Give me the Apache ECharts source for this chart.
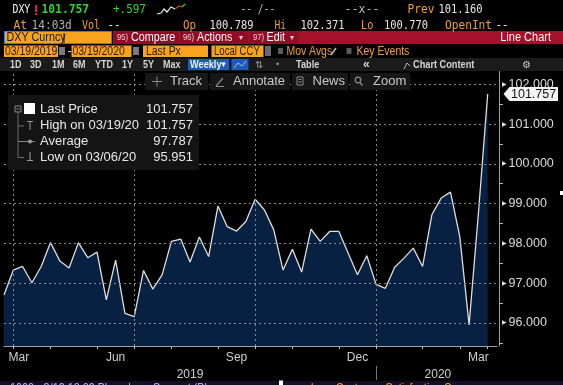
<!DOCTYPE html>
<html><head><meta charset="utf-8">
<script src="https://cdn.jsdelivr.net/npm/echarts@6/dist/echarts.min.js"></script>
<style>html,body{margin:0;padding:0;background:#000;}#c{width:563px;height:385px;}</style>
</head><body><div id="c"></div>
<script>
// ---- data ----
var dates = ['2019-03-22','2019-03-29','2019-04-05','2019-04-12','2019-04-19','2019-04-26','2019-05-03','2019-05-10','2019-05-17','2019-05-24','2019-05-31','2019-06-07','2019-06-14','2019-06-21','2019-06-28','2019-07-05','2019-07-12','2019-07-19','2019-07-26','2019-08-02','2019-08-09','2019-08-16','2019-08-23','2019-08-30','2019-09-06','2019-09-13','2019-09-20','2019-09-27','2019-10-04','2019-10-11','2019-10-18','2019-10-25','2019-11-01','2019-11-08','2019-11-15','2019-11-22','2019-11-29','2019-12-06','2019-12-13','2019-12-20','2019-12-27','2020-01-03','2020-01-10','2020-01-17','2020-01-24','2020-01-31','2020-02-07','2020-02-14','2020-02-21','2020-02-28','2020-03-06','2020-03-13','2020-03-19','2020-03-27'];
var lastPrice = [96.70,97.33,97.42,97.01,97.42,98.02,97.56,97.38,98.02,97.64,97.78,96.58,97.58,96.24,96.16,97.32,96.85,97.21,98.05,98.11,97.53,98.16,97.67,98.94,98.42,98.31,98.55,99.11,98.84,98.34,97.33,97.85,97.28,98.36,98.05,98.30,98.30,97.75,97.21,97.69,96.97,96.87,97.40,97.63,97.88,97.42,98.72,99.14,99.29,98.17,95.951,98.75,101.757,'-'];
var yLabelValues = [96,97,98,99,100,101,102];
var yMinorTicks = [95.5,96.5,97.5,98.5,99.5,100.5,101.5];
var monthEnds = ['2019-03-29','2019-04-26','2019-05-31','2019-06-28','2019-07-26','2019-08-30','2019-09-27','2019-10-25','2019-11-29','2019-12-27','2020-01-31','2020-02-28','2020-03-19'];
var quarterEnds = ['2019-03-29','2019-06-28','2019-09-27','2019-12-27'];
var monthLabelDates = ['2019-03-29','2019-06-14','2019-09-13','2019-12-13','2020-03-13'];
var monthLabels = ['Mar','Jun','Sep','Dec','Mar'];
var yearLabelDates = ['2019-08-09','2020-02-07'];
var yearLabels = ['2019','2020'];
var yearBoundary = ['2019-12-27'];
var legendRows = [['Last Price','101.757'],['High on 03/19/20','101.757'],['Average','97.787'],['Low on 03/06/20','95.951']];

var chart = echarts.init(document.getElementById('c'), null, {renderer:'canvas'});
var GRID = '#8a8a8a';
var option = {
  backgroundColor: '#000',
  animation: false,
  grid: {left: 4, right: 66, top: 71, bottom: 39, containLabel: false},
  xAxis: [{
    type: 'category', data: dates, boundaryGap: false, position: 'bottom',
    axisLine: {show: true, lineStyle: {color: '#a0a0a0', width: 1}},
    axisTick: {show: true, length: 3, lineStyle: {color: '#bbb'},
      interval: function (i, v) { return monthEnds.indexOf(v) >= 0; }},
    axisLabel: {show: true, color: '#d0d0d0', fontSize: 12, fontFamily: 'Liberation Sans', margin: 6,
      interval: function (i, v) { return monthLabelDates.indexOf(v) >= 0; },
      formatter: function (v) { var k = monthLabelDates.indexOf(v); return k === 0 ? '{a|' + monthLabels[k] + '}' : monthLabels[k]; },
      rich: {a: {color: '#d0d0d0', fontSize: 12, fontFamily: 'Liberation Sans', padding: [0, 0, 0, 11]}}},
    splitLine: {show: false}
  }, {
    type: 'category', data: dates, boundaryGap: false, position: 'bottom', offset: 20,
    axisLine: {show: false},
    axisTick: {show: true, length: 14, lineStyle: {color: '#777'},
      interval: function (i, v) { return yearBoundary.indexOf(v) >= 0; }},
    axisLabel: {show: true, color: '#d0d0d0', fontSize: 12, fontFamily: 'Liberation Sans', margin: 3,
      interval: function (i, v) { return yearLabelDates.indexOf(v) >= 0; },
      formatter: function (v) { var k = yearLabelDates.indexOf(v); return k === 1 ? '{b|' + yearLabels[k] + '}' : yearLabels[k]; },
      rich: {b: {color: '#d0d0d0', fontSize: 12, fontFamily: 'Liberation Sans', padding: [0, 0, 0, 12]}}},
    splitLine: {show: false}
  }],
  yAxis: {
    type: 'value', position: 'right', offset: 2, min: 95.42, max: 102.335, scale: true,
    axisLine: {show: true, lineStyle: {color: '#a0a0a0', width: 1}},
    axisTick: {show: true, inside: false, length: 4, lineStyle: {color: '#bbb'}, customValues: yMinorTicks},
    axisLabel: {show: true, margin: 3, customValues: yLabelValues,
      formatter: function (v) { return '{t|\u25B6}{v|' + Number(v).toFixed(3) + '}'; },
      rich: {t: {color: '#e0e0e0', fontSize: 6, fontFamily: 'DejaVu Sans', padding: [0, 2, 0, 0]},
             v: {color: '#dcdcdc', fontSize: 12.5, fontFamily: 'Liberation Sans'}}},
    splitLine: {show: false}
  },
  series: [{
    type: 'line', data: lastPrice, symbol: 'none', smooth: false,
    lineStyle: {color: '#dedede', width: 1.3},
    areaStyle: {color: '#082042', opacity: 1},
    markLine: {
      silent: true, symbol: 'none', animation: false, label: {show: false},
      lineStyle: {color: GRID, type: [2, 3], width: 1},
      data: yLabelValues.map(function (v) { return {yAxis: v}; })
        .concat(quarterEnds.map(function (d) { return {xAxis: d}; }))
    }
  }]
};
chart.setOption(option);

// ---- decorations ----
function T(x, y, s, color, o) {
  o = o || {};
  return {type: 'text', x: x, y: y, scaleX: o.sx || 1, z: 20, silent: true,
    style: {text: s, x: 0, y: 0, fill: color, align: o.align || 'left', verticalAlign: 'middle',
      font: (o.w || 'normal') + ' ' + (o.size || 12) + 'px ' + (o.fam || '"Liberation Sans"')}};
}
function R(x, y, w, h, fill, stroke, z) {
  return {type: 'rect', z: z || 15, silent: true, shape: {x: x, y: y, width: w, height: h},
    style: {fill: fill, stroke: stroke || null, lineWidth: 1}};
}
function L(pts, color, w, z) {
  return {type: 'polyline', z: z || 21, silent: true, shape: {points: pts}, style: {stroke: color, lineWidth: w || 1, fill: null}};
}
var MONO = '"DejaVu Sans Mono"';
var OR = '#f0a030', WH = '#e6e6e6', GR = '#2fd52f';
var g = [];
// row 1
g.push(T(12.5, 10, 'DXY', '#f2f2f2', {fam: MONO, size: 12, sx: 0.82}));
g.push(R(35, 5, 2, 7, '#e02020', null, 20), R(35, 13, 2, 2, '#e02020', null, 20));
g.push(T(41.5, 10, '101.757', GR, {fam: MONO, size: 13, w: 'bold', sx: 0.87}));
g.push(T(113, 10, '+.597', GR, {fam: MONO, size: 12, sx: 0.91}));
g.push(L([[157, 14], [161, 13], [164, 9], [167, 12], [171, 7], [175, 9]], '#f0f0f0', 1.2));
g.push(L([[175, 9], [179, 6], [182, 7]], '#e03030', 1.2), L([[182, 7], [185, 4]], '#30d030', 1.2));
g.push(T(240.5, 10, '-- /--', '#b8b8b8', {fam: MONO, size: 12, sx: 0.8}));
g.push(T(344.5, 10, '--x--', '#b8b8b8', {fam: MONO, size: 12, sx: 0.97}));
g.push(T(407.5, 10, 'Prev', OR, {fam: MONO, size: 12, sx: 0.93}));
g.push(T(438.5, 10, '101.160', WH, {fam: MONO, size: 12, sx: 0.87}));
// row 2
var r2 = [[13.5, 'At', OR, 0.93], [31.5, '14:03d', '#b0b0b0', 0.93], [82, 'Vol', OR, 0.83], [107.5, '--', WH, 0.9],
  [183, 'Op', OR, 0.9], [209.5, '100.789', WH, 0.87], [274.5, 'Hi', OR, 0.8], [300.5, '102.371', WH, 0.87],
  [361, 'Lo', OR, 0.85], [384, '100.770', WH, 0.87], [445, 'OpenInt', OR, 0.93], [495.5, '--', WH, 0.9]];
r2.forEach(function (a) { g.push(T(a[0], 25.5, a[1], a[2], {fam: MONO, size: 12, sx: a[3]})); });
// row 3
g.push(R(113, 31, 450, 13, '#a3112b', null, 14));
g.push(R(113.5, 31.5, 65, 12, '#8f0d25', null, 15), R(180, 31.5, 68, 12, '#8f0d25', null, 15), R(249.5, 31.5, 49, 12, '#8f0d25', null, 15));
g.push(R(4.5, 31.5, 107, 12, '#f7a31c', '#3d7fd8', 16));
g.push(T(6.5, 38, 'DXY Curncy', '#1a1a1a', {size: 12.5, sx: 0.86}));
g.push(L([[64, 33], [64, 43]], '#111', 1));
g.push(T(117, 38, '95)', '#f4c8d0', {size: 9, sx: 0.85}), T(131, 38, 'Compare', '#fafafa', {size: 12.5, sx: 0.86}));
g.push(T(183, 38, '96)', '#f4c8d0', {size: 9, sx: 0.85}), T(197, 38, 'Actions', '#fafafa', {size: 12.5, sx: 0.86}), T(239, 38, '\u25BE', '#f0d0d0', {size: 8}));
g.push(T(253, 38, '97)', '#f4c8d0', {size: 9, sx: 0.85}), T(266.5, 38, 'Edit', '#fafafa', {size: 12.5, sx: 0.86}), T(290, 38, '\u25BE', '#f0d0d0', {size: 8}));
g.push(T(551, 38, 'Line Chart', '#fafafa', {size: 12.5, sx: 0.88, align: 'right'}));
// row 4
var OB = '#f7a31c', DK = '#2a1a00';
g.push(R(4, 45.5, 54, 11.5, OB), T(5, 51.5, '03/19/2019', DK, {size: 12, sx: 0.87}));
g.push(R(59, 47, 6, 8, '#7a7a7a'), T(67.5, 51.5, '-', '#e0e0e0', {size: 12}));
g.push(R(71.5, 45.5, 60, 11.5, OB), T(72.5, 51.5, '03/19/2020', DK, {size: 12, sx: 0.87}));
g.push(R(133, 47, 6, 8, '#7a7a7a'));
g.push(R(143, 45.5, 65, 11.5, OB), T(146, 51.5, 'Last Px', DK, {size: 12, sx: 0.87}));
g.push(R(211.5, 45.5, 52, 11.5, OB), T(214, 51.5, 'Local CCY', DK, {size: 12, sx: 0.8}));
g.push(R(265, 46, 6, 10, '#6a6a6a'));
g.push(R(278, 48, 5, 6, '#5a5a5a'), T(286.5, 51.5, 'Mov Avgs', OR, {size: 12, sx: 0.87}), L([[331, 55], [336, 48]], '#bbb', 1.5));
g.push(R(346.5, 48, 5, 6, '#5a5a5a'), T(356.5, 51.5, 'Key Events', OR, {size: 12, sx: 0.87}));
// row 5
g.push(R(0, 58, 563, 13, '#1b1b1b', null, 14));
var r5 = [[10, '1D'], [30, '3D'], [52, '1M'], [73, '6M'], [95, 'YTD'], [122, '1Y'], [143, '5Y'], [163, 'Max']];
r5.forEach(function (a) { g.push(T(a[0], 65, a[1], '#d4d4d4', {size: 10, w: 'bold', sx: 0.9})); });
g.push(R(188, 59, 41, 11, '#1f5db5'), T(190, 65, 'Weekly', '#f0f0f0', {size: 10, w: 'bold', sx: 0.92}), T(219.5, 65, '\u25BC', '#f0f0f0', {size: 8}));
g.push(R(231.5, 59, 17, 11, '#1f5db5'), L([[234, 68], [238, 63], [242, 66], [246, 61]], '#9cc4f0', 1));
g.push(T(255, 65, '\u21C5', '#9a9a9a', {size: 10}), T(276, 65, '\u2022', '#9a9a9a', {size: 9}));
g.push(T(296, 65, 'Table', '#d4d4d4', {size: 10, w: 'bold', sx: 0.92}), T(363, 65, '\u00AB', '#d4d4d4', {size: 12, w: 'bold'}));
g.push(L([[404, 69], [407, 63], [410, 66]], '#bbb', 1), T(413, 65, 'Chart Content', '#d4d4d4', {size: 10, w: 'bold', sx: 0.92}));
g.push(T(526, 65, '\u2699', '#cfcfcf', {size: 10, align: 'center'}));
// row 6 toolbar
g.push(R(145, 73, 63, 17, '#171717'), R(210, 73, 80, 17, '#171717'), R(292, 73, 56, 17, '#171717'), R(350, 73, 60, 17, '#171717'));
g.push(L([[152, 81.5], [162, 81.5]], '#8a8a8a', 1), L([[157, 76.5], [157, 86.5]], '#8a8a8a', 1));
g.push(T(170, 81.5, 'Track', '#c8c8c8', {size: 13}));
g.push(L([[216, 86], [223, 78]], '#8a8a8a', 1.2), L([[216, 86.5], [224, 86.5]], '#8a8a8a', 1));
g.push(T(233, 81.5, 'Annotate', '#c8c8c8', {size: 13}));
g.push(R(297, 77, 6, 8, null, '#8a8a8a'), L([[298.5, 79.5], [301.5, 79.5]], '#8a8a8a', 1), L([[298.5, 82], [301.5, 82]], '#8a8a8a', 1));
g.push(T(312.5, 81.5, 'News', '#c8c8c8', {size: 13}));
g.push({type: 'circle', z: 21, silent: true, shape: {cx: 358, cy: 80, r: 2.8}, style: {fill: null, stroke: '#8a8a8a', lineWidth: 1.2}});
g.push(L([[360, 82.5], [362.5, 85.5]], '#8a8a8a', 1.3));
g.push(T(373, 81.5, 'Zoom', '#c8c8c8', {size: 13}));
// legend
g.push(R(8, 95, 191, 75, '#141414', null, 15));
g.push(R(15, 106, 6, 6, null, '#8a8a8a', 20), L([[16.5, 109], [19.5, 109]], '#8a8a8a', 1));
g.push(R(24, 103, 11, 11, '#ffffff', null, 20));
g.push(L([[18, 112], [18, 157.5], [24, 157.5]], '#6a6a6a', 1), L([[18, 126], [24, 126]], '#6a6a6a', 1));
g.push(L([[27, 121.5], [33, 121.5]], '#9a9a9a', 1), L([[30, 121.5], [30, 130]], '#9a9a9a', 1));
g.push(L([[18, 141.5], [35, 141.5]], '#8a8a8a', 1));
g.push({type: 'circle', z: 21, silent: true, shape: {cx: 30, cy: 141.5, r: 2}, style: {fill: '#9a9a9a'}});
g.push(L([[30, 152], [30, 160.5]], '#9a9a9a', 1), L([[27, 160.5], [33, 160.5]], '#9a9a9a', 1));
var ly = [109.5, 125.5, 141.5, 157];
legendRows.forEach(function (r, i) {
  g.push(T(40, ly[i], r[0], '#e8e8e8', {size: 13}));
  g.push(T(193, ly[i], r[1], '#e8e8e8', {size: 13, align: 'right'}));
});
// bottom strip
g.push(R(0, 381, 563, 4, '#160c26', null, 14));
g.push(T(10, 389, '1002 - 3/19 18:29 Bloomberg Support (Bl', '#c8a8e8', {size: 12, sx: 0.9}));
g.push(R(279, 380.5, 4, 4.5, '#ffffff', null, 20));
g.push(T(290, 389, 'oomberg Customer Satisfaction Survey', OR, {size: 12, sx: 0.9}));
g.push(R(560, 191, 3, 4, '#ffffff', null, 20));
// last price tag
var lastVal = lastPrice[52];
var ty = chart.convertToPixel({yAxisIndex: 0}, lastVal);
g.push({type: 'polygon', z: 25, silent: true,
  shape: {points: [[503.5, ty], [509.5, ty - 7], [558, ty - 7], [558, ty + 7], [509.5, ty + 7]]},
  style: {fill: '#f4f4f4'}});
var tt = T(511, ty + 0.5, lastVal.toFixed(3), '#111', {size: 12.5}); tt.z = 26; g.push(tt);
chart.setOption({graphic: g});
</script></body></html>
